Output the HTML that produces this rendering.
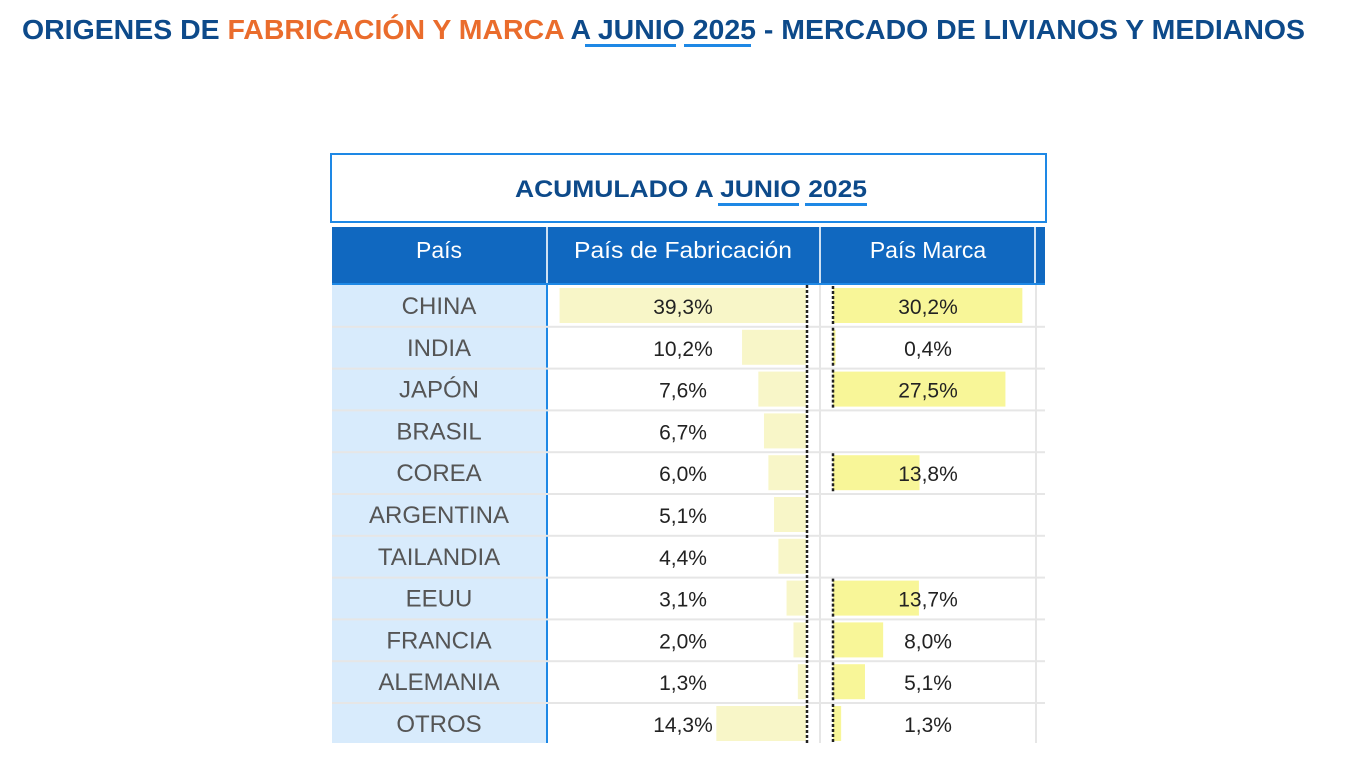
<!DOCTYPE html>
<html><head><meta charset="utf-8"><style>
html,body{margin:0;padding:0;background:#fff;width:1364px;height:773px;overflow:hidden}
svg{display:block}
text{font-family:"Liberation Sans",sans-serif}
</style></head><body>
<svg width="1364" height="773" viewBox="0 0 1364 773" xmlns="http://www.w3.org/2000/svg">
<text x="22" y="39" font-size="28" font-weight="bold" fill="#0d4a8a" textLength="1283" lengthAdjust="spacingAndGlyphs">ORIGENES DE <tspan fill="#ea6c2c">FABRICACIÓN Y MARCA</tspan> A JUNIO 2025 - MERCADO DE LIVIANOS Y MEDIANOS</text>
<rect x="585" y="44" width="91" height="3" fill="#1e88e5"/>
<rect x="684" y="44" width="67" height="3" fill="#1e88e5"/>
<rect x="331" y="154" width="715" height="68" fill="#fff" stroke="#1e88e5" stroke-width="2"/>
<text x="515" y="197" font-size="24" font-weight="bold" fill="#0d4a8a" textLength="352" lengthAdjust="spacingAndGlyphs">ACUMULADO A JUNIO 2025</text>
<rect x="718" y="203" width="81" height="3" fill="#1e88e5"/>
<rect x="805" y="203" width="62" height="3" fill="#1e88e5"/>
<rect x="332" y="227" width="713" height="56" fill="#1068c0"/>
<rect x="546" y="227" width="2" height="56" fill="#fff" opacity="0.8"/>
<rect x="819" y="227" width="2" height="56" fill="#fff" opacity="0.8"/>
<rect x="1034" y="227" width="2" height="56" fill="#fff" opacity="0.8"/>
<rect x="332" y="283" width="713" height="2" fill="#1e88e5"/>
<g font-size="23" fill="#fff" text-anchor="middle">
<text x="439" y="258">País</text><text x="683" y="258" textLength="218" lengthAdjust="spacingAndGlyphs">País de Fabricación</text><text x="928" y="258">País Marca</text></g>
<rect x="332" y="285" width="214" height="458" fill="#d8ebfc"/>
<rect x="546" y="285" width="2" height="458" fill="#1e88e5"/>
<rect x="819" y="285" width="2" height="458" fill="#e6e6e6"/>
<rect x="1035" y="285" width="2" height="458" fill="#e6e6e6"/>
<g id="rows"></g>
<line x1="807" y1="285" x2="807" y2="743" stroke="#222" stroke-width="2.5" stroke-dasharray="3,2"/>
</svg>
<script>
var d=[["CHINA",39.3,30.2],["INDIA",10.2,0.4],["JAPÓN",7.6,27.5],["BRASIL",6.7,null],["COREA",6.0,13.8],["ARGENTINA",5.1,null],["TAILANDIA",4.4,null],["EEUU",3.1,13.7],["FRANCIA",2.0,8.0],["ALEMANIA",1.3,5.1],["OTROS",14.3,1.3]];
var s="",h=41.8,k=6.27;
d.forEach(function(r,i){var y=285+h*i;
if(i>0)s+='<rect x="332" y="'+(y-1)+'" width="713" height="2" fill="#e6e6e6"/>';
var w=r[1]*k;s+='<rect x="'+(806-w)+'" y="'+(y+3)+'" width="'+w+'" height="35" fill="#f8f6c8"/>';
if(r[2]!=null){var w2=r[2]*k;s+='<rect x="833" y="'+(y+3)+'" width="'+w2+'" height="35" fill="#f8f698"/>';
s+='<line x1="833" y1="'+(y+1)+'" x2="833" y2="'+(y+h-1)+'" stroke="#222" stroke-width="2.5" stroke-dasharray="3,2"/>';}
var ty=y+29;
s+='<text x="439" y="'+ty+'" font-size="24" fill="#555" text-anchor="middle">'+r[0]+'</text>';
s+='<text x="683" y="'+ty+'" font-size="21" fill="#222" text-anchor="middle">'+r[1].toFixed(1).replace(".",",")+'%</text>';
if(r[2]!=null)s+='<text x="928" y="'+ty+'" font-size="21" fill="#222" text-anchor="middle">'+r[2].toFixed(1).replace(".",",")+'%</text>';});
document.getElementById("rows").innerHTML=s;
</script>
</body></html>
